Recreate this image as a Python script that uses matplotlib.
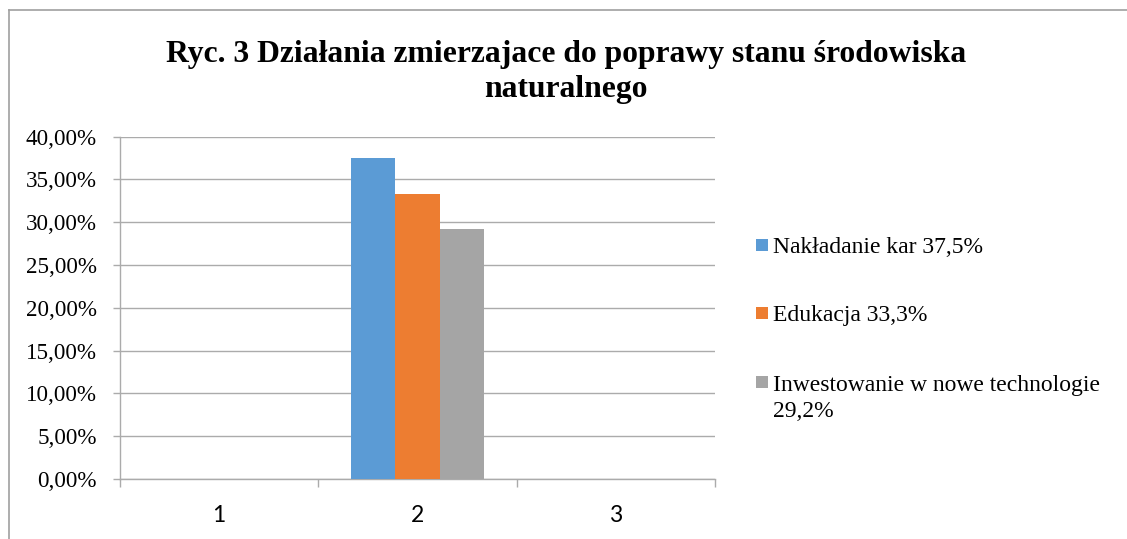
import numpy as np
import matplotlib
matplotlib.use("Agg")
from matplotlib import pyplot as plt
from matplotlib.patches import Rectangle
from matplotlib.lines import Line2D
from matplotlib.ticker import FuncFormatter, MultipleLocator

categories = ['1', '2', '3']
nakladanie_kar = [0, 37.5, 0]
edukacja = [0, 33.3, 0]
inwestowanie = [0, 29.2, 0]
series_labels = ['Nakładanie kar 37,5%', 'Edukacja 33,3%',
                 'Inwestowanie w nowe technologie\n29,2%']
title = 'Ryc. 3 Działania zmierzajace do poprawy stanu środowiska\nnaturalnego'

colors = ['#5B9BD5', '#ED7D31', '#A5A5A5']
grid_col = '#ababab'
W, H = 1127, 539

fig = plt.figure(figsize=(W / 100, H / 100), dpi=100)
ax = fig.add_axes([120 / W, 1 - 479 / H, (715 - 120) / W, (479 - 136.7) / H])

x = np.arange(len(categories))
w = 1 / 4.5  # excel gap width 150%
for i, (vals, c) in enumerate(zip([nakladanie_kar, edukacja, inwestowanie], colors)):
    ax.bar(x + (i - 1) * w, vals, width=w, color=c, linewidth=0, zorder=3)

ax.set_xlim(-0.5, 2.5)
ax.set_ylim(0, 40)
ax.yaxis.set_major_locator(MultipleLocator(5))
ax.yaxis.set_major_formatter(FuncFormatter(lambda v, p: f'{v:.2f}%'.replace('.', ',')))
ax.grid(axis='y', color=grid_col, linewidth=1.0, zorder=0)

ax.set_xticks(x)
ax.set_xticklabels(categories, fontfamily='Lato', fontsize=16.5)
ax.set_xticks(np.arange(-0.5, 3, 1), minor=True)
ax.tick_params(axis='x', which='major', length=0, pad=19)
ax.tick_params(axis='x', which='minor', length=6, width=1, color=grid_col)
ax.tick_params(axis='y', length=5, width=1, color=grid_col, pad=11.5)
for lab in ax.get_yticklabels():
    lab.set_fontfamily('Liberation Serif')
    lab.set_fontsize(16.6)

for s in ['top', 'right']:
    ax.spines[s].set_visible(False)
for s in ['left', 'bottom']:
    ax.spines[s].set_color(grid_col)
    ax.spines[s].set_linewidth(1.0)

# chart area border (only top and left visible)
fig.add_artist(Line2D([8.5 / W, 8.5 / W], [0, 1 - 10 / H], color='#a0a0a0', lw=1.2))
fig.add_artist(Line2D([8.5 / W, 1], [1 - 10 / H, 1 - 10 / H], color='#a0a0a0', lw=1.2))

# baseline of a multi-line text is the baseline of its last line
fig.text(566 / W, 1 - 97 / H, title, ha='center', va='baseline', fontfamily='Liberation Serif',
         fontweight='bold', fontsize=22.8, linespacing=1.27)

# legend
leg_y = [253, 321, 390]
line_step = 27
for lab, c, yb in zip(series_labels, colors, leg_y):
    fig.add_artist(Rectangle((756 / W, 1 - (yb - 2) / H), 12 / W, 12 / H,
                             transform=fig.transFigure, color=c, linewidth=0))
    last = yb + line_step * lab.count('\n')
    fig.text(773 / W, 1 - last / H, lab, ha='left', va='baseline',
             fontfamily='Liberation Serif', fontsize=17, linespacing=1.29)

fig.savefig('out.png', dpi=100)
